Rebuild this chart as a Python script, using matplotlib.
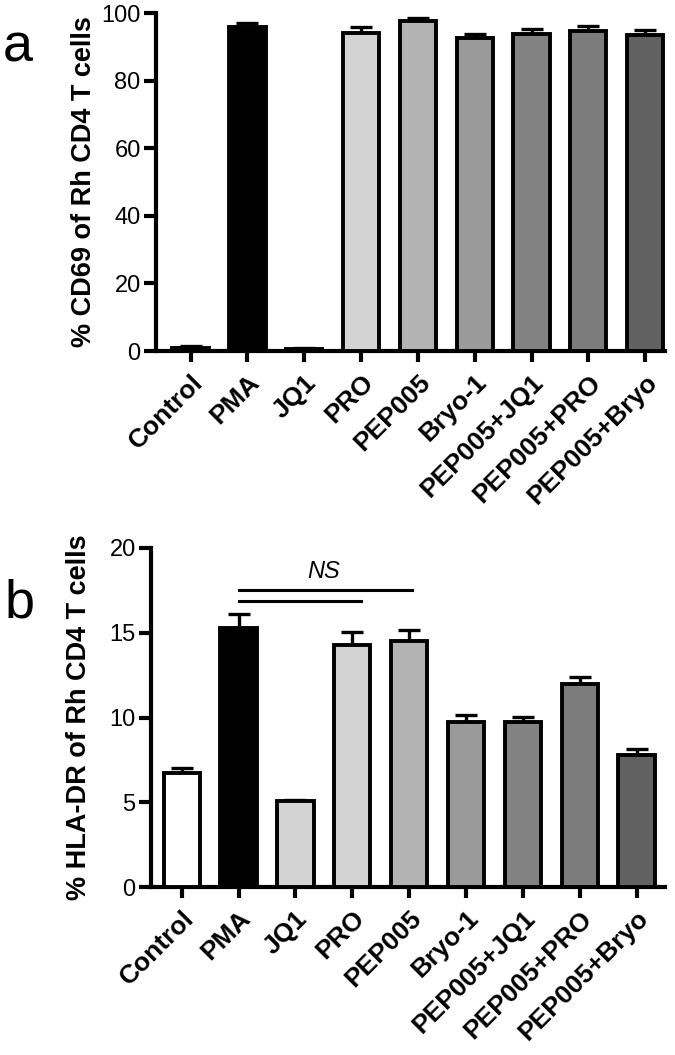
import numpy as np
import matplotlib
matplotlib.use('Agg')
import matplotlib.pyplot as plt
from matplotlib import font_manager

# categorias y valores
categorias = ['Control', 'PMA', 'JQ1', 'PRO', 'PEP005', 'Bryo-1',
              'PEP005+JQ1', 'PEP005+PRO', 'PEP005+Bryo']
cd69 = [1.0, 96.0, 0.6, 94.2, 97.5, 92.5, 93.8, 94.8, 93.5]
cd69_err = [0.4, 1.0, 0.2, 1.7, 0.9, 1.3, 1.4, 1.3, 1.5]
hladr = [6.75, 15.3, 5.05, 14.3, 14.5, 9.75, 9.75, 11.95, 7.78]
hladr_err = [0.25, 0.8, 0.1, 0.75, 0.65, 0.4, 0.3, 0.45, 0.35]
colores = ['#ffffff', '#000000', '#d3d3d3', '#d3d3d3', '#b3b3b3',
           '#9a9a9a', '#828282', '#7c7c7c', '#616161']

nombres = {f.name for f in font_manager.fontManager.ttflist}
angosta = 'Liberation Sans Narrow' if 'Liberation Sans Narrow' in nombres else 'Liberation Sans'
plt.rcParams['font.family'] = ['Liberation Sans', 'DejaVu Sans']

W, H = 675, 1055
fig = plt.figure(figsize=(W / 100, H / 100), dpi=100)

def panel(rect, vals, errs, ymax, ystep, ylabel, xlim):
    ax = fig.add_axes(rect)
    x = np.arange(len(categorias))
    ax.errorbar(x, vals, yerr=[np.zeros(len(vals)), errs], fmt='none',
                ecolor='black', elinewidth=2.4, capsize=8, capthick=2.4, zorder=2)
    ax.bar(x, vals, width=0.64, color=colores, edgecolor='black',
           linewidth=2.8, zorder=3)
    ax.set_xlim(*xlim)
    ax.set_ylim(0, ymax)
    ax.set_yticks(np.arange(0, ymax + 1, ystep))
    ax.set_xticks(x)
    ax.set_xticklabels(categorias, rotation=45, ha='right', va='top',
                       rotation_mode='anchor', fontsize=19, fontweight='bold')
    for lab in ax.get_yticklabels():
        lab.set_fontfamily(angosta)
        lab.set_fontsize(17)
    for s in ['top', 'right']:
        ax.spines[s].set_visible(False)
    for s in ['left', 'bottom']:
        ax.spines[s].set_linewidth(3)
    ax.tick_params(axis='both', width=3, length=9, pad=2)
    ax.tick_params(axis='x', length=8, pad=6)
    ax.set_ylabel(ylabel, fontsize=19.5, fontweight='bold')
    ax.yaxis.set_label_coords(-0.115, 0.5)
    return ax

ax_a = panel([156 / W, 1 - 351 / H, (665 - 156) / W, (351 - 13) / H],
             cd69, cd69_err, 100, 20, '% CD69 of Rh CD4 T cells', (-0.61, 8.35))
ax_b = panel([151 / W, 1 - 887 / H, (665 - 151) / W, (887 - 548) / H],
             hladr, hladr_err, 20, 5, '% HLA-DR of Rh CD4 T cells', (-0.54, 8.5))

# barras de comparacion NS
ax_b.plot([1, 4.05], [17.5, 17.5], color='black', lw=2.2, clip_on=False)
ax_b.plot([1, 3.15], [16.9, 16.9], color='black', lw=2.2, clip_on=False)
ax_b.text(2.5, 18.6, 'NS', fontsize=17, fontstyle='italic', ha='center', va='center')

fig.text(18 / W, 1 - 62 / H, 'a', fontsize=39, ha='center', va='baseline')
fig.text(20 / W, 1 - 617 / H, 'b', fontsize=39, ha='center', va='baseline')

fig.savefig('out.png', dpi=100)
